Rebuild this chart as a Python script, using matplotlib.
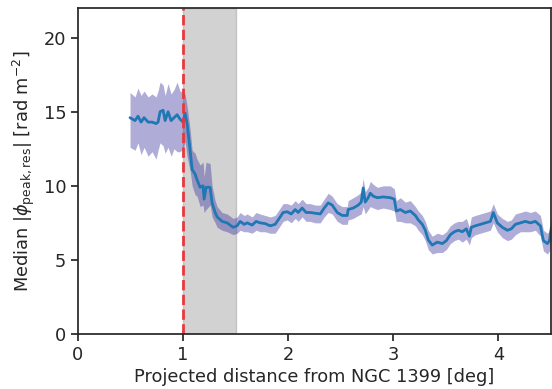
import matplotlib
matplotlib.use('Agg')
import matplotlib.pyplot as plt
import seaborn as sns
import numpy as np

# Median |phi_peak,res| vs projected distance
dist = [0.495, 0.543, 0.571, 0.600, 0.629, 0.667, 0.705, 0.743, 0.762, 0.781,
        0.810, 0.829, 0.857, 0.886, 0.914, 0.943, 0.971, 1.000, 1.019, 1.038,
        1.067, 1.086, 1.114, 1.133, 1.162, 1.190, 1.200, 1.219, 1.257, 1.276,
        1.305, 1.324, 1.371, 1.419, 1.476, 1.514, 1.543, 1.581, 1.610, 1.657,
        1.695, 1.733, 1.781, 1.829, 1.876, 1.924, 1.952, 1.990, 2.029, 2.067,
        2.095, 2.133, 2.171, 2.210, 2.257, 2.305, 2.343, 2.381, 2.419, 2.467,
        2.514, 2.562, 2.571, 2.619, 2.667, 2.695, 2.714, 2.733, 2.762, 2.781,
        2.810, 2.848, 2.905, 2.971, 3.010, 3.029, 3.067, 3.114, 3.162, 3.210,
        3.238, 3.276, 3.305, 3.333, 3.371, 3.419, 3.467, 3.505, 3.543, 3.581,
        3.619, 3.657, 3.695, 3.724, 3.743, 3.781, 3.829, 3.876, 3.924, 3.952,
        3.990, 4.038, 4.086, 4.124, 4.162, 4.210, 4.257, 4.305, 4.352, 4.400,
        4.429, 4.467, 4.486, 4.505]
median = [14.6, 14.4, 14.7, 14.3, 14.6, 14.3, 14.3, 14.2, 14.3, 15.0,
          15.1, 14.4, 15.0, 14.4, 14.6, 14.8, 14.5, 14.3, 14.9, 14.2,
          12.4, 11.1, 10.8, 10.4, 9.9, 10.0, 9.1, 9.9, 9.9, 8.85,
          8.2, 7.9, 7.6, 7.5, 7.2, 7.3, 7.6, 7.4, 7.5, 7.35,
          7.6, 7.5, 7.45, 7.3, 7.4, 7.9, 8.2, 8.25, 8.1, 8.4,
          8.2, 8.5, 8.2, 8.2, 8.15, 8.1, 8.5, 8.85, 8.7, 8.2,
          8.0, 8.0, 8.4, 8.5, 8.7, 8.9, 9.85, 8.9, 9.2, 9.5,
          9.3, 9.2, 9.25, 9.2, 9.1, 8.3, 8.4, 8.2, 8.3, 8.0,
          7.7, 7.4, 7.0, 6.35, 6.0, 6.2, 6.1, 6.3, 6.7, 6.9,
          7.0, 6.9, 7.1, 6.6, 7.2, 7.3, 7.4, 7.5, 7.6, 8.2,
          7.5, 7.2, 7.0, 7.1, 7.4, 7.5, 7.6, 7.5, 7.6, 7.3,
          6.3, 6.1, 6.3, 7.2]
lower = [12.6, 12.4, 12.9, 12.1, 12.6, 12.0, 12.3, 11.8, 12.4, 12.9,
         12.7, 12.2, 12.6, 12.0, 12.5, 12.3, 12.3, 12.5, 13.0, 12.0,
         11.0, 10.0, 9.4, 9.3, 8.6, 8.7, 8.2, 8.4, 8.7, 7.9,
         7.5, 7.2, 7.0, 6.9, 6.7, 6.8, 7.0, 6.9, 6.9, 6.8,
         7.0, 6.9, 6.9, 6.8, 6.8, 7.3, 7.6, 7.7, 7.5, 7.8,
         7.6, 7.9, 7.6, 7.6, 7.5, 7.5, 7.9, 8.2, 8.1, 7.6,
         7.4, 7.4, 7.7, 7.8, 8.0, 8.1, 8.6, 8.1, 8.4, 8.6,
         8.5, 8.4, 8.5, 8.4, 8.3, 7.6, 7.6, 7.5, 7.5, 7.3,
         7.0, 6.7, 6.3, 5.7, 5.4, 5.5, 5.5, 5.7, 6.1, 6.3,
         6.4, 6.2, 6.4, 6.0, 6.5, 6.7, 6.8, 6.9, 7.0, 7.5,
         6.9, 6.5, 6.3, 6.4, 6.7, 6.9, 6.9, 6.9, 7.0, 6.6,
         5.6, 5.4, 5.6, 6.5]
upper = [16.3, 16.0, 16.6, 16.1, 16.4, 16.0, 16.2, 16.0, 16.4, 17.0,
         16.8, 16.1, 16.9, 16.2, 16.5, 17.0, 16.4, 16.3, 16.2, 15.4,
         13.8, 12.4, 12.2, 11.8, 11.4, 11.6, 10.6, 11.6, 11.5, 10.0,
         9.0, 8.6, 8.2, 8.1, 7.8, 7.9, 8.2, 8.0, 8.1, 7.9,
         8.2, 8.1, 8.0, 7.9, 8.0, 8.5, 8.8, 8.8, 8.7, 9.0,
         8.8, 9.1, 8.8, 8.8, 8.7, 8.7, 9.1, 9.5, 9.3, 8.8,
         8.6, 8.6, 9.0, 9.2, 9.4, 9.6, 10.5, 9.6, 9.9, 10.3,
         10.1, 9.9, 10.0, 10.0, 9.8, 9.0, 9.2, 8.9, 9.0, 8.6,
         8.3, 8.0, 7.6, 7.0, 6.6, 6.8, 6.7, 6.9, 7.3, 7.5,
         7.6, 7.6, 7.8, 7.2, 7.9, 8.0, 8.1, 8.2, 8.3, 8.8,
         8.1, 7.8, 7.6, 7.7, 8.1, 8.2, 8.3, 8.2, 8.3, 8.0,
         7.0, 6.8, 7.0, 7.8]

sns.set_style('ticks')
plt.rcParams['font.family'] = ['DejaVu Sans']

fig = plt.figure(figsize=(5.52, 3.89), dpi=100)
ax = fig.add_axes([0.1413, 0.1414, 0.8567, 0.8380])

# region near the galaxy
ax.axvspan(1.0, 1.5, color='grey', alpha=0.35, lw=1)
ax.fill_between(dist, lower, upper, color=(0.22, 0.2, 0.62), alpha=0.4, lw=0)
ax.plot(dist, median, color='#1f77b4', lw=2)
ax.axvline(1.0, color='#e8383d', ls='--', lw=2)

ax.set_xlim(0, 4.5)
ax.set_ylim(0, 22)
ax.set_xticks([0, 1, 2, 3, 4])
ax.set_yticks([0, 5, 10, 15, 20])
ax.tick_params(labelsize=12.8, length=5, width=1.25, colors='#262626')
for s in ax.spines.values():
    s.set_linewidth(1.25)
    s.set_color('#262626')
ax.set_xlabel('Projected distance from NGC 1399 [deg]', fontsize=12.8, color='#262626', labelpad=3)
ax.set_ylabel(r'Median $|\phi_{\rm peak,res}|$ [rad m$^{-2}$]', fontsize=12.8, color='#262626', labelpad=5)

fig.savefig('out.png', dpi=100)
